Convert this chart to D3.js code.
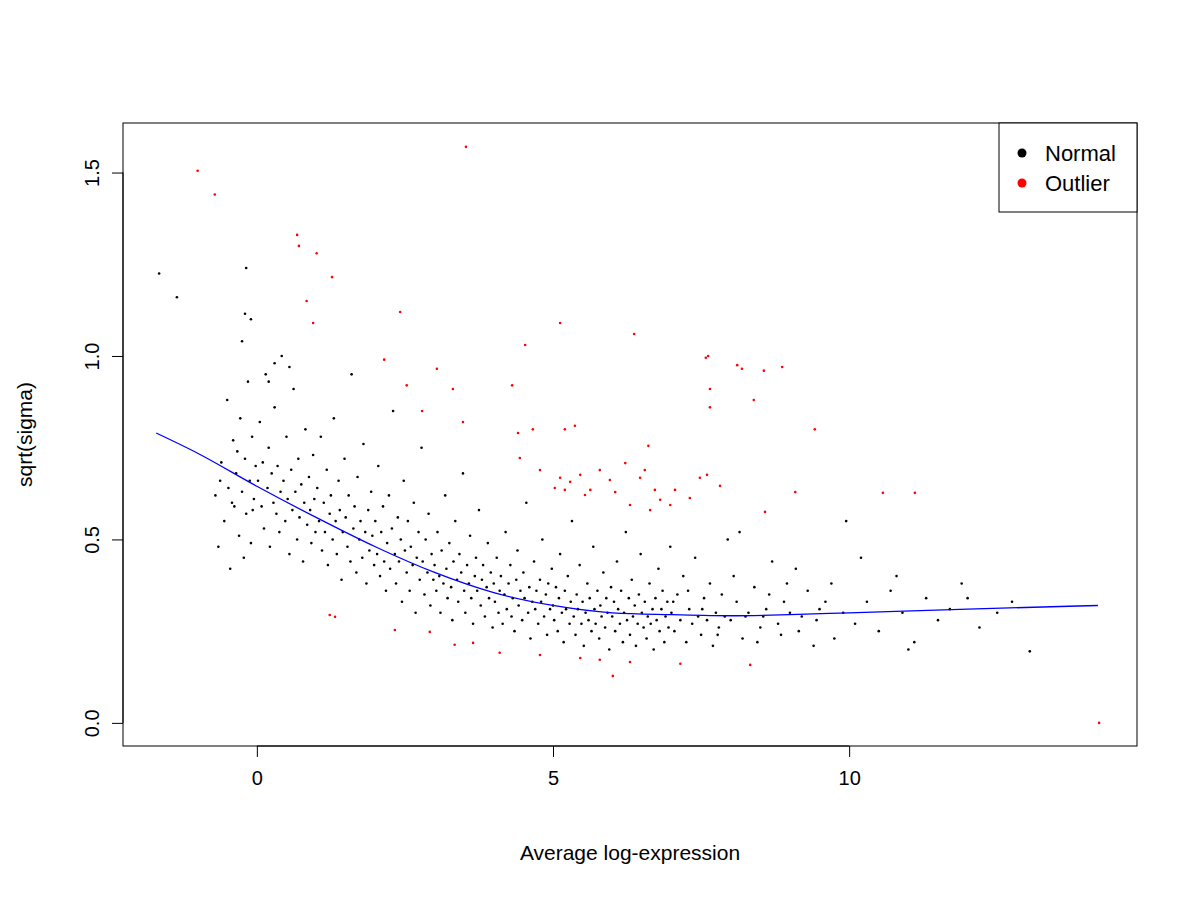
<!DOCTYPE html>
<html><head><meta charset="utf-8">
<script src="https://cdn.jsdelivr.net/npm/d3@7"></script>
<style>body{margin:0;background:#fff}svg{font-family:"Liberation Sans",Arial,sans-serif}</style>
</head><body><div id="chart"></div>
<script>
// blue trend line
var trendX = [-1.7, -1, 0, 1, 2, 3, 4, 5, 6, 7, 8, 9, 10, 12, 14.2];
var trendY = [0.79, 0.735, 0.645, 0.56, 0.48, 0.41, 0.355, 0.32, 0.30, 0.295, 0.292, 0.295, 0.30, 0.31, 0.32];

var xTicks = [0, 5, 10];
var yTicks = [0.0, 0.5, 1.0, 1.5];

var outlierPts = [[-1.0,1.505],[-0.71,1.44],[0.68,1.33],[0.71,1.30],[1.01,1.28],[0.84,1.15],[0.95,1.09],[1.27,1.215],
  [2.42,1.12],[3.53,1.57],[2.15,0.99],[2.53,0.92],[3.04,0.965],[3.31,0.91],[4.31,0.92],[4.53,1.03],[5.12,1.09],
  [6.37,1.06],[7.58,0.995],[7.62,1.0],[7.65,0.91],[7.65,0.86],[8.11,0.975],[8.19,0.965],[8.56,0.96],[8.87,0.97],
  [8.39,0.88],[9.42,0.80],[3.48,0.82],[4.41,0.79],[4.66,0.80],[5.20,0.80],[5.37,0.81],[2.79,0.85],[6.61,0.755],
  [4.44,0.722],[4.78,0.689],[5.12,0.668],[5.29,0.657],[5.46,0.676],[5.63,0.635],[5.79,0.689],[5.96,0.662],[6.22,0.708],
  [6.47,0.668],[6.55,0.689],[6.72,0.635],[6.81,0.608],[6.98,0.594],[7.06,0.635],[7.31,0.613],[7.48,0.668],[7.60,0.676],
  [7.82,0.646],[5.20,0.635],[5.54,0.621],[6.05,0.629],[6.30,0.594],[6.64,0.580],[5.03,0.640],[8.58,0.575],[9.09,0.629],
  [10.57,0.627],[11.11,0.627],[5.79,0.172],[6.30,0.166],[7.15,0.161],[8.33,0.158],[5.46,0.177],[4.78,0.185],[4.10,0.191],
  [3.65,0.218],[3.34,0.213],[2.92,0.248],[2.33,0.253],[6.01,0.128],[1.23,0.294],[1.32,0.289],[14.22,0.0]];

var normalPts = [[-0.7,0.62],[-0.65,0.48],[-0.6,0.71],[-0.55,0.55],[-0.5,0.88],[-0.48,0.64],[-0.45,0.42],[-0.4,0.77],[-0.38,0.59],[-0.35,0.68],[-0.3,0.51],[-0.28,0.83],[-0.25,0.63],[-0.2,0.72],[-0.18,0.57],[-0.15,0.93],[-0.12,0.66],[-0.1,0.49],[-0.08,0.78],[-0.05,0.61],[-0.02,0.70],[-0.62,0.66],[-0.42,0.60],[-0.33,0.74],[-0.22,0.45],[-0.07,0.58],
[0.02,0.66],[0.05,0.82],[0.08,0.59],[0.1,0.71],[0.12,0.53],[0.15,0.95],[0.18,0.64],[0.2,0.75],[0.22,0.48],[0.25,0.68],[0.28,0.60],[0.3,0.86],[0.33,0.57],[0.35,0.70],[0.38,0.52],[0.4,0.63],[0.42,1.0],[0.45,0.66],[0.48,0.55],[0.5,0.78],[0.52,0.61],[0.55,0.46],[0.58,0.69],[0.6,0.58],[0.62,0.91],[0.65,0.63],[0.68,0.50],[0.7,0.72],[0.72,0.56],[0.75,0.65],[0.78,0.44],[0.8,0.60],[0.82,0.80],[0.85,0.54],[0.88,0.67],[0.9,0.58],[0.92,0.49],[0.95,0.73],[0.97,0.61],[0.99,0.52],
[1.02,0.64],[1.05,0.55],[1.08,0.78],[1.1,0.47],[1.13,0.60],[1.15,0.52],[1.18,0.69],[1.2,0.43],[1.23,0.57],[1.25,0.62],[1.28,0.50],[1.3,0.83],[1.33,0.55],[1.35,0.46],[1.38,0.66],[1.4,0.58],[1.43,0.39],[1.45,0.52],[1.48,0.72],[1.5,0.56],[1.53,0.48],[1.55,0.62],[1.58,0.44],[1.6,0.95],[1.63,0.53],[1.65,0.59],[1.68,0.41],[1.7,0.67],[1.73,0.50],[1.75,0.55],[1.78,0.45],[1.8,0.76],[1.83,0.52],[1.85,0.38],[1.88,0.58],[1.9,0.47],[1.93,0.63],[1.95,0.51],[1.98,0.43],
[2.0,0.55],[2.03,0.46],[2.05,0.70],[2.08,0.40],[2.1,0.52],[2.13,0.59],[2.15,0.44],[2.18,0.36],[2.2,0.49],[2.23,0.62],[2.25,0.42],[2.28,0.53],[2.3,0.85],[2.33,0.46],[2.35,0.38],[2.38,0.56],[2.4,0.44],[2.43,0.50],[2.45,0.33],[2.48,0.66],[2.5,0.47],[2.53,0.41],[2.55,0.55],[2.58,0.36],[2.6,0.48],[2.63,0.43],[2.65,0.60],[2.68,0.30],[2.7,0.45],[2.73,0.52],[2.75,0.39],[2.78,0.75],[2.8,0.44],[2.83,0.35],[2.85,0.50],[2.88,0.41],[2.9,0.57],[2.93,0.32],[2.95,0.46],[2.98,0.39],
[3.0,0.43],[3.03,0.36],[3.05,0.52],[3.08,0.40],[3.1,0.30],[3.12,0.47],[3.15,0.38],[3.18,0.62],[3.2,0.42],[3.22,0.34],[3.25,0.49],[3.28,0.37],[3.3,0.28],[3.32,0.44],[3.35,0.55],[3.38,0.39],[3.4,0.33],[3.42,0.46],[3.45,0.41],[3.48,0.68],[3.5,0.36],[3.52,0.30],[3.55,0.43],[3.58,0.38],[3.6,0.51],[3.62,0.34],[3.65,0.27],[3.68,0.40],[3.7,0.45],[3.72,0.36],[3.75,0.58],[3.78,0.32],[3.8,0.39],[3.82,0.43],[3.85,0.29],[3.88,0.37],[3.9,0.49],[3.92,0.34],[3.95,0.41],[3.98,0.26],
[4.0,0.38],[4.02,0.33],[4.05,0.45],[4.08,0.30],[4.1,0.36],[4.12,0.40],[4.15,0.27],[4.18,0.35],[4.2,0.52],[4.22,0.31],[4.25,0.38],[4.28,0.43],[4.3,0.29],[4.32,0.34],[4.35,0.25],[4.38,0.39],[4.4,0.47],[4.42,0.32],[4.45,0.36],[4.48,0.28],[4.5,0.41],[4.52,0.34],[4.55,0.60],[4.58,0.30],[4.6,0.37],[4.62,0.23],[4.65,0.33],[4.68,0.44],[4.7,0.31],[4.72,0.36],[4.75,0.27],[4.78,0.39],[4.8,0.33],[4.82,0.50],[4.85,0.29],[4.88,0.35],[4.9,0.24],[4.92,0.38],[4.95,0.31],[4.98,0.42],
[5.0,0.32],[5.02,0.28],[5.05,0.37],[5.08,0.25],[5.1,0.34],[5.12,0.46],[5.15,0.30],[5.18,0.22],[5.2,0.36],[5.22,0.31],[5.25,0.40],[5.28,0.27],[5.3,0.33],[5.32,0.55],[5.35,0.29],[5.38,0.24],[5.4,0.35],[5.42,0.31],[5.45,0.43],[5.48,0.27],[5.5,0.33],[5.52,0.21],[5.55,0.30],[5.58,0.38],[5.6,0.28],[5.62,0.34],[5.65,0.25],[5.68,0.48],[5.7,0.31],[5.72,0.27],[5.75,0.36],[5.78,0.23],[5.8,0.32],[5.82,0.29],[5.85,0.41],[5.88,0.26],[5.9,0.34],[5.92,0.30],[5.95,0.20],[5.98,0.37],
[6.0,0.29],[6.03,0.33],[6.05,0.25],[6.08,0.44],[6.1,0.31],[6.13,0.27],[6.15,0.36],[6.18,0.22],[6.2,0.30],[6.23,0.52],[6.25,0.28],[6.28,0.34],[6.3,0.24],[6.33,0.39],[6.35,0.29],[6.38,0.32],[6.4,0.21],[6.43,0.27],[6.45,0.35],[6.48,0.46],[6.5,0.30],[6.53,0.26],[6.55,0.33],[6.58,0.23],[6.6,0.29],[6.63,0.38],[6.65,0.27],[6.68,0.31],[6.7,0.20],[6.73,0.34],[6.75,0.28],[6.78,0.42],[6.8,0.25],[6.83,0.31],[6.85,0.36],[6.88,0.22],[6.9,0.29],[6.93,0.33],[6.95,0.26],[6.98,0.48],
[7.0,0.30],[7.05,0.25],[7.1,0.35],[7.15,0.28],[7.2,0.40],[7.25,0.22],[7.3,0.31],[7.35,0.27],[7.4,0.45],[7.45,0.29],[7.5,0.24],[7.55,0.34],[7.6,0.28],[7.65,0.38],[7.7,0.21],[7.75,0.30],[7.8,0.26],[7.85,0.35],[7.9,0.29],[7.95,0.50],[7.03,0.33],[7.28,0.36],[7.52,0.31],[7.78,0.24],
[8.0,0.28],[8.1,0.33],[8.2,0.23],[8.3,0.30],[8.4,0.37],[8.5,0.26],[8.6,0.31],[8.7,0.44],[8.8,0.27],[8.9,0.33],[8.05,0.40],[8.25,0.29],[8.45,0.22],[8.65,0.35],[8.85,0.24],[8.15,0.52],[8.55,0.29],[8.95,0.38],
[9.0,0.30],[9.15,0.25],[9.3,0.36],[9.45,0.28],[9.6,0.33],[9.75,0.23],[9.9,0.30],[9.1,0.42],[9.4,0.21],[9.7,0.38],[9.95,0.55],[9.5,0.31],[9.2,0.29],
[10.1,0.27],[10.3,0.33],[10.5,0.25],[10.7,0.36],[10.9,0.30],[11.1,0.22],[11.3,0.34],[11.5,0.28],[11.7,0.31],[11.9,0.38],[12.2,0.26],[12.5,0.30],[10.8,0.40],[11.0,0.20],[10.2,0.45],[12.0,0.34],[12.75,0.33],[13.05,0.195],
[-1.65,1.225],[-1.35,1.16],[-0.18,1.24],[-0.25,1.04],[-0.2,1.115],[-0.1,1.10],[0.3,0.98],[0.55,0.97],[0.2,0.93]];

var W = 1200, H = 900;
var box = {left: 123, right: 1137, top: 123, bottom: 746};

var svg = d3.select("#chart").append("svg").attr("width", W).attr("height", H);

var x = d3.scaleLinear().domain([-2.26, 14.86]).range([box.left, box.right]);
var y = d3.scaleLinear().domain([-0.063, 1.635]).range([box.bottom, box.top]);

// axes, R style: detached from the box
var xAxis = svg.append("g").attr("transform", "translate(0," + box.bottom + ")")
  .call(d3.axisBottom(x).tickValues(xTicks).tickSize(11).tickPadding(14).tickFormat(d3.format("d")));
xAxis.select(".domain").attr("d", "M" + x(0) + ",0H" + x(10));
xAxis.selectAll("text").style("font-size", "20px").attr("fill", "#000");

var yAxis = svg.append("g").attr("transform", "translate(" + box.left + ",0)")
  .call(d3.axisLeft(y).tickValues(yTicks).tickSize(11).tickFormat(d3.format(".1f")));
yAxis.select(".domain").attr("d", "M0," + y(0) + "V" + y(1.5));
yAxis.selectAll("text").style("font-size", "20px").attr("fill", "#000")
  .attr("text-anchor", "middle")
  .attr("transform", "translate(-31,0) rotate(-90)")
  .attr("x", 0).attr("y", 0).attr("dy", "0.35em");

svg.append("rect").attr("x", box.left).attr("y", box.top)
  .attr("width", box.right - box.left).attr("height", box.bottom - box.top)
  .attr("fill", "none").attr("stroke", "#000");

svg.append("text").attr("x", (box.left + box.right) / 2).attr("y", 860)
  .attr("text-anchor", "middle").style("font-size", "21px").text("Average log-expression");
svg.append("text").attr("transform", "translate(32," + ((box.top + box.bottom) / 2) + ") rotate(-90)")
  .attr("text-anchor", "middle").style("font-size", "21px").text("sqrt(sigma)");

svg.append("g").selectAll("circle").data(normalPts).enter().append("circle")
  .attr("cx", function(d) { return x(d[0]); })
  .attr("cy", function(d) { return y(d[1]); })
  .attr("r", 1.3).attr("fill", "#000");

svg.append("g").selectAll("circle").data(outlierPts).enter().append("circle")
  .attr("cx", function(d) { return x(d[0]); })
  .attr("cy", function(d) { return y(d[1]); })
  .attr("r", 1.3).attr("fill", "#ff0000");

var line = d3.line().curve(d3.curveMonotoneX)
  .x(function(d) { return x(d[0]); }).y(function(d) { return y(d[1]); });
svg.append("path").datum(d3.zip(trendX, trendY)).attr("d", line)
  .attr("fill", "none").attr("stroke", "#0000ff").attr("stroke-width", 1.3);

// legend
var lg = svg.append("g");
lg.append("rect").attr("x", 999).attr("y", box.top).attr("width", box.right - 999).attr("height", 89)
  .attr("fill", "#fff").attr("stroke", "#000");
[["Normal", "#000"], ["Outlier", "#ff0000"]].forEach(function(e, i) {
  lg.append("circle").attr("cx", 1022).attr("cy", 153 + i * 30).attr("r", 4.5).attr("fill", e[1]);
  lg.append("text").attr("x", 1045).attr("y", 153 + i * 30).attr("dy", "0.35em")
    .style("font-size", "22px").text(e[0]);
});
</script></body></html>
